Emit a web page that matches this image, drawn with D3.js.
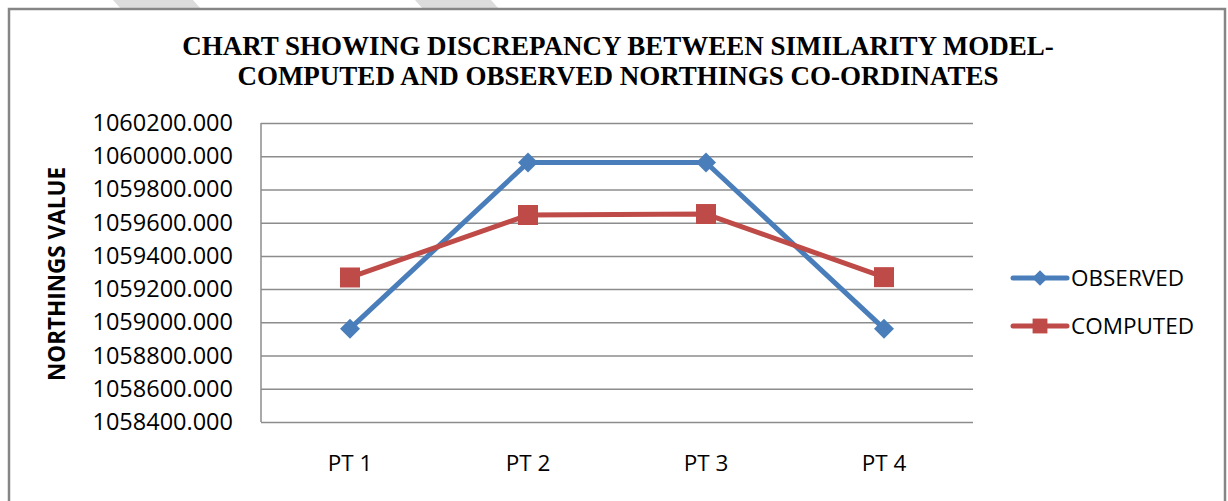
<!DOCTYPE html>
<html>
<head>
<meta charset="utf-8">
<script src="https://cdn.jsdelivr.net/npm/d3@7"></script>
<style>
  body { margin: 0; background: #fff; }
</style>
</head>
<body>
<div id="chart"></div>
<script>
const width = 1228
const height = 501

// data
const points = ['PT 1', 'PT 2', 'PT 3', 'PT 4'];
const observed = [1058962, 1059962, 1059962, 1058962];
const computed = [1059270, 1059646, 1059652, 1059272];
const yTicks = [1058400, 1058600, 1058800, 1059000, 1059200, 1059400, 1059600, 1059800, 1060000, 1060200];
const seriesNames = ['OBSERVED', 'COMPUTED'];
const seriesColors = ['#4a7ebb', '#be4b48'];
const titleLines = ['CHART SHOWING DISCREPANCY BETWEEN SIMILARITY MODEL-', 'COMPUTED AND OBSERVED NORTHINGS CO-ORDINATES'];

const plot = {left: 261, right: 973, top: 123, bottom: 422};

const svg = d3.select('#chart').append('svg')
    .attr('width', width).attr('height', height);

svg.append('rect').attr('width', width).attr('height', height).attr('fill', '#fff');

// faint watermark stripes cut at the top edge
[[113, 193], [415, 491]].forEach(s => {
  svg.append('polygon')
    .attr('points', `${s[0]},0 ${s[1]},0 ${s[1] + 8},9 ${s[0] + 8},9`)
    .attr('fill', '#dcdcdc');
});

// chart border
svg.append('rect')
    .attr('x', 9).attr('y', 9)
    .attr('width', 1216).attr('height', 520)
    .attr('fill', 'none')
    .attr('stroke', '#868686')
    .attr('stroke-width', 2.5);

const x = d3.scaleBand().domain(points).range([plot.left, plot.right]);
const y = d3.scaleLinear().domain([1058400, 1060200]).range([plot.bottom, plot.top]);

// gridlines
svg.append('g')
    .attr('transform', `translate(${plot.left},0)`)
    .call(d3.axisLeft(y).tickValues(yTicks).tickSize(-(plot.right - plot.left)).tickFormat(''))
    .call(g => g.select('.domain').remove())
    .call(g => g.selectAll('line').attr('stroke', '#8c8c8c').attr('stroke-width', 1.5));

// y axis line
svg.append('line')
    .attr('x1', plot.left).attr('x2', plot.left)
    .attr('y1', plot.top).attr('y2', plot.bottom)
    .attr('stroke', '#8c8c8c').attr('stroke-width', 1.5);

// y tick labels
svg.append('g')
    .attr('transform', `translate(${plot.left},0)`)
    .call(d3.axisLeft(y).tickValues(yTicks).tickSize(0).tickPadding(28).tickFormat(d3.format('.3f')))
    .call(g => g.select('.domain').remove())
    .call(g => g.selectAll('text')
        .attr('font-family', 'Open Sans')
        .attr('font-size', 23.5)
        .attr('fill', '#000'));

// x labels
svg.append('g')
    .attr('transform', `translate(0,${plot.bottom})`)
    .call(d3.axisBottom(x).tickSize(0).tickPadding(33))
    .call(g => g.select('.domain').remove())
    .call(g => g.selectAll('text')
        .attr('font-family', 'Open Sans')
        .attr('font-size', 22.5)
        .attr('fill', '#000'));

// title
svg.append('g').selectAll('text')
    .data(titleLines)
    .enter().append('text')
    .attr('x', 618)
    .attr('y', (d, i) => 55 + i * 30)
    .attr('text-anchor', 'middle')
    .attr('font-family', 'Liberation Serif')
    .attr('font-weight', 'bold')
    .attr('font-size', 27)
    .text(d => d);

// y axis title
svg.append('text')
    .attr('transform', 'translate(65,274) rotate(-90)')
    .attr('text-anchor', 'middle')
    .attr('font-family', 'Open Sans')
    .attr('font-weight', 'bold')
    .attr('font-size', 22.5)
    .text('NORTHINGS VALUE');

const line = d3.line()
    .x((d, i) => x(points[i]) + x.bandwidth() / 2)
    .y(d => y(d));

const diamond = d3.symbol().type(d3.symbolSquare).size(200);
const square = d3.symbol().type(d3.symbolSquare).size(400);

[observed, computed].forEach((vals, k) => {
  svg.append('path')
      .datum(vals)
      .attr('d', line)
      .attr('fill', 'none')
      .attr('stroke', seriesColors[k])
      .attr('stroke-width', 5)
      .attr('stroke-linejoin', 'round');

  svg.append('g').selectAll('path')
      .data(vals)
      .enter().append('path')
      .attr('d', k === 0 ? diamond : square)
      .attr('transform', (d, i) => `translate(${x(points[i]) + x.bandwidth() / 2},${y(d)})` + (k === 0 ? ' rotate(45)' : ''))
      .attr('fill', seriesColors[k]);
});

// legend
const legend = svg.append('g').selectAll('g')
    .data(seriesNames)
    .enter().append('g')
    .attr('transform', (d, i) => `translate(1013,${278 + i * 48})`);

legend.append('line')
    .attr('x1', 0).attr('x2', 54)
    .attr('stroke', (d, i) => seriesColors[i])
    .attr('stroke-width', 5)
    .attr('stroke-linecap', 'round');

legend.append('path')
    .attr('d', (d, i) => i === 0 ? d3.symbol().type(d3.symbolSquare).size(120)() : d3.symbol().type(d3.symbolSquare).size(220)())
    .attr('transform', (d, i) => 'translate(27,0)' + (i === 0 ? ' rotate(45)' : ''))
    .attr('fill', (d, i) => seriesColors[i]);

legend.append('text')
    .attr('x', 58)
    .attr('y', 8)
    .attr('font-family', 'Open Sans')
    .attr('font-size', 22.5)
    .text(d => d);
</script>
</body>
</html>
